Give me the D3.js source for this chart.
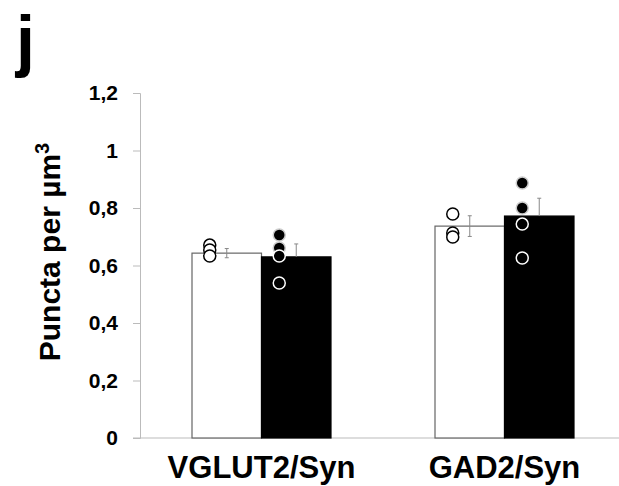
<!DOCTYPE html>
<html>
<head>
<meta charset="utf-8">
<script src="https://cdn.jsdelivr.net/npm/d3@7"></script>
<style>
  body { margin:0; background:#fff; }
  text { font-family: "Liberation Sans", Arial, sans-serif; font-weight:bold; }
</style>
</head>
<body>
<svg id="chart" width="619" height="486"></svg>
<script>
var groups = ["VGLUT2/Syn", "GAD2/Syn"];
var series = ["white", "black"];
var means = [[0.643, 0.630], [0.737, 0.772]];
var errs = [[0.016, 0.045], [0.036, 0.062]];
// individual animals, per group per series; filled flag marks solid dots
var pointVals = [[[0.671, 0.654, 0.633], [0.706, 0.661, 0.633, 0.539]],
                 [[0.779, 0.713, 0.699], [0.887, 0.800, 0.744, 0.626]]];
var pointFilled = [[[0, 0, 0], [1, 1, 0, 0]],
                   [[0, 0, 0], [1, 1, 0, 0]]];
var yTicks = [0, 0.2, 0.4, 0.6, 0.8, 1, 1.2];

var width = 619, height = 486;
var margin = {top: 93, left: 140, bottom: 48, right: 0};

var svg = d3.select("#chart");

var yScale = d3.scaleLinear().domain([0, 1.2]).range([height - margin.bottom, margin.top]);
var x0 = d3.scaleBand().domain(groups).range([margin.left, margin.left + 486])
  .paddingInner(0.428).paddingOuter(0.214);
var x1 = d3.scaleBand().domain(series).range([0, x0.bandwidth()]);

// y axis
var yAxis = d3.axisLeft(yScale).tickValues(yTicks).tickSize(7).tickPadding(15)
  .tickFormat(function(d) { return d3.format("")(d).replace(".", ","); });
var ya = svg.append("g")
  .attr("transform", "translate(" + margin.left + ",0)")
  .call(yAxis);
ya.attr("font-size", null).attr("font-family", null);
ya.select(".domain").attr("stroke", "#bbb");
ya.selectAll(".tick line").attr("stroke", "#bbb");
ya.selectAll(".tick text").attr("fill", "#000")
  .style("font-size", "21px")
  .style("font-family", "'Liberation Sans', Arial, sans-serif").style("font-weight", "bold");

// baseline
svg.append("line")
  .attr("x1", margin.left - 7).attr("x2", width)
  .attr("y1", yScale(0)).attr("y2", yScale(0))
  .attr("stroke", "#bbb");

// bars
var bars = [];
groups.forEach(function(g, gi) {
  series.forEach(function(s, si) {
    bars.push({g: g, s: s, v: means[gi][si], e: errs[gi][si], gi: gi, si: si});
  });
});

svg.selectAll(".bar").data(bars).enter().append("rect")
  .attr("class", "bar")
  .attr("x", function(d) { return x0(d.g) + x1(d.s); })
  .attr("width", x1.bandwidth())
  .attr("y", function(d) { return yScale(d.v); })
  .attr("height", function(d) { return yScale(0) - yScale(d.v); })
  .attr("fill", function(d) { return d.s == "white" ? "#fff" : "#000"; })
  .attr("stroke", function(d) { return d.s == "white" ? "#666" : "#000"; })
  .attr("stroke-width", 1.2);

// error bars
var eb = svg.selectAll(".err").data(bars).enter().append("g").attr("class", "err")
  .attr("transform", function(d) { return "translate(" + (x0(d.g) + x1(d.s) + x1.bandwidth() / 2) + ",0)"; });
eb.append("line")
  .attr("y1", function(d) { return yScale(d.v); })
  .attr("y2", function(d) { return yScale(d.v + d.e); })
  .attr("stroke", "#888");
eb.append("line")
  .attr("x1", -2).attr("x2", 2)
  .attr("y1", function(d) { return yScale(d.v + d.e); })
  .attr("y2", function(d) { return yScale(d.v + d.e); })
  .attr("stroke", "#888");
eb.filter(function(d) { return d.s == "white"; }).append("line")
  .attr("y1", function(d) { return yScale(d.v); })
  .attr("y2", function(d) { return yScale(d.v - d.e); })
  .attr("stroke", "#888");
eb.filter(function(d) { return d.s == "white"; }).append("line")
  .attr("x1", -2).attr("x2", 2)
  .attr("y1", function(d) { return yScale(d.v - d.e); })
  .attr("y2", function(d) { return yScale(d.v - d.e); })
  .attr("stroke", "#888");

// points
var pts = [];
groups.forEach(function(g, gi) {
  series.forEach(function(s, si) {
    pointVals[gi][si].forEach(function(v, k) {
      pts.push({g: g, s: s, v: v, f: pointFilled[gi][si][k]});
    });
  });
});
svg.selectAll(".pt").data(pts).enter().append("circle")
  .attr("class", "pt")
  .attr("cx", function(d) { return x0(d.g) + x1(d.s) + x1.bandwidth() / 2 - 17; })
  .attr("cy", function(d) { return yScale(d.v); })
  .attr("r", 6)
  .attr("fill", function(d) { return d.f ? "#000" : (d.s == "white" ? "#fff" : "#000"); })
  .attr("stroke", function(d) { return d.f ? "#ccc" : (d.s == "white" ? "#000" : "#fff"); })
  .attr("stroke-width", 1.5);

// category labels
svg.selectAll(".cat").data(groups).enter().append("text")
  .attr("class", "cat")
  .attr("x", function(d) { return x0(d) + x0.bandwidth() / 2; })
  .attr("y", 478)
  .attr("text-anchor", "middle")
  .attr("font-size", 31)
  .text(function(d) { return d; });

// y title
var yt = svg.append("text")
  .attr("transform", "translate(60,252)rotate(-90)")
  .attr("text-anchor", "middle")
  .attr("font-size", 30);
yt.append("tspan").text("Puncta per µm");
yt.append("tspan").attr("baseline-shift", "super").attr("font-size", 20).text("3");

// panel letter
svg.append("text")
  .attr("x", 16).attr("y", 64)
  .attr("font-size", 68)
  .text("j");
</script>
</body>
</html>
